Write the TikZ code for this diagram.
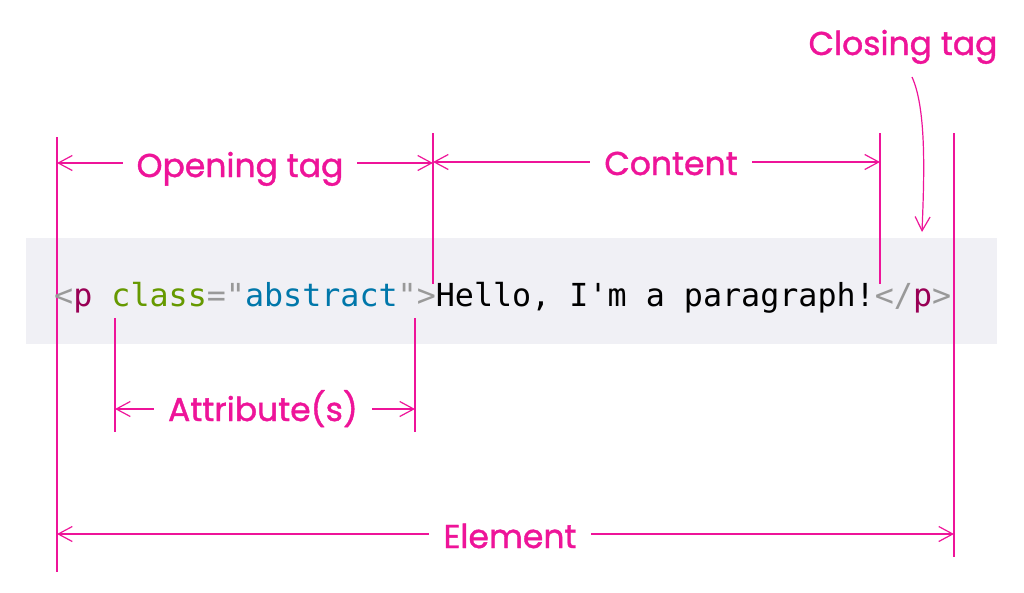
\documentclass[tikz,border=0pt]{standalone}
\usepackage{fontspec}
\setmainfont{Poppins}[BoldFont=Poppins, BoldFeatures={FakeBold=1.2}]
\newfontfamily\codefont{DejaVu Sans Mono}
\usetikzlibrary{arrows.meta}
\definecolor{mag}{RGB}{238,20,153}
\definecolor{bandgray}{RGB}{240,240,245}
\definecolor{tagc}{RGB}{153,0,85}
\definecolor{attrc}{RGB}{102,153,0}
\definecolor{valc}{RGB}{0,119,170}
\definecolor{punc}{RGB}{153,153,153}
\begin{document}
\begin{tikzpicture}[x=1pt,y=-1pt,
  guide/.style={draw=mag,line width=2.2pt},
  dim/.style={draw=mag,line width=1.2pt,{Straight Barb[length=14pt,width=15pt]}-{Straight Barb[length=14pt,width=15pt]}},
  lbl/.style={text=mag,font=\bfseries\fontsize{33}{40}\selectfont,inner xsep=14pt,inner ysep=2pt,fill=white,anchor=base},
  code/.style={font=\codefont\fontsize{31.7}{38}\selectfont,inner sep=0pt,anchor=base west}
]
\useasboundingbox (0,0) rectangle (1024,592);
\fill[bandgray] (26,238) rectangle (997,344);
% guide lines
\coordinate (a1) at (57,137); \coordinate (a2) at (57,572);
\coordinate (b1) at (433,133); \coordinate (b2) at (433,284);
\coordinate (c1) at (880,133); \coordinate (c2) at (880,284);
\coordinate (d1) at (954,133); \coordinate (d2) at (954,557);
\coordinate (e1) at (115,318); \coordinate (e2) at (115,432);
\coordinate (f1) at (415,318); \coordinate (f2) at (415,432);
\draw[guide] (a1) -- (a2);
\draw[guide] (b1) -- (b2);
\draw[guide] (c1) -- (c2);
\draw[guide] (d1) -- (d2);
\draw[guide] (e1) -- (e2);
\draw[guide] (f1) -- (f2);
% code line
\node[code] (codeline) at (54,306) {\textcolor{punc}{<}\textcolor{tagc}{p} \textcolor{attrc}{class}\textcolor{punc}{="}\textcolor{valc}{abstract}\textcolor{punc}{">}\textcolor{black}{Hello, I'm a paragraph!}\textcolor{punc}{</}\textcolor{tagc}{p}\textcolor{punc}{>}};
% dimension arrows
\coordinate (oa) at (57,163); \coordinate (ob) at (433,163);
\coordinate (ca) at (433,162); \coordinate (cb) at (880,162);
\coordinate (ta) at (115,409); \coordinate (tb) at (415,409);
\coordinate (ea) at (57,534); \coordinate (eb) at (954,534);
\draw[dim] (oa) -- (ob);
\draw[dim] (ca) -- (cb);
\draw[dim] (ta) -- (tb);
\draw[dim] (ea) -- (eb);
\node[lbl] (opening) at (240,177) {Opening tag};
\node[lbl] (content) at (671,175) {Content};
\node[lbl] (attr) at (263,421) {Attribute(s)};
\node[lbl] (element) at (510,548) {Element};
\node[lbl,fill=none] (closing) at (903,55) {Closing tag};
\coordinate (cs) at (912,77);
\coordinate (ce) at (922,232);
\draw[draw=mag,line width=1.2pt,-{Straight Barb[length=14pt,width=15pt]}] (cs) .. controls (927,110) and (924,180) .. (ce);
\end{tikzpicture}
\end{document}
